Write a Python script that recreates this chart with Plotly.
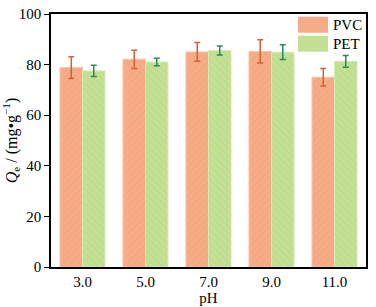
import plotly.graph_objects as go

categories = ["3.0", "5.0", "7.0", "9.0", "11.0"]
pvc = [78.8, 82.1, 85.0, 85.2, 75.0]
pvc_err = [4.3, 3.6, 3.7, 4.6, 3.5]
pet = [77.5, 81.0, 85.6, 84.9, 81.3]
pet_err = [2.2, 1.5, 1.8, 2.9, 2.3]
series_names = ["PVC", "PET"]
yticks = [0, 20, 40, 60, 80, 100]

FONT = "Liberation Serif"
PVC_COL, PVC_FG, PVC_ERR = "#F6AC86", "#E88A5E", "#D5603A"
PET_COL, PET_FG, PET_ERR = "#C3E094", "#9CC664", "#2A8A58"

fig = go.Figure()
fig.add_trace(go.Bar(
    x=categories, y=pvc, name=series_names[0],
    marker=dict(color=PVC_COL, line=dict(color="#F9C4A6", width=1),
                pattern=dict(shape="/", fgcolor=PVC_FG, fgopacity=0.4, size=5, solidity=0.15, fillmode="overlay")),
    error_y=dict(type="data", array=pvc_err, color=PVC_ERR, thickness=1.5, width=3),
    showlegend=False,
))
fig.add_trace(go.Bar(
    x=categories, y=pet, name=series_names[1],
    marker=dict(color=PET_COL, line=dict(color="#D6EAB2", width=1),
                pattern=dict(shape="\\", fgcolor=PET_FG, fgopacity=0.4, size=5, solidity=0.15, fillmode="overlay")),
    error_y=dict(type="data", array=pet_err, color=PET_ERR, thickness=1.5, width=3),
    showlegend=False,
))

# custom legend with large swatches, placed in paper coordinates
L, T, W, H = 51.0, 14.0, 315.0, 253.0
def px_x(x):
    return (x - L) / W
def px_y(y):
    return (T + H - y) / H

legend_items = [(series_names[0], PVC_COL, "/", PVC_FG), (series_names[1], PET_COL, "\\", PET_FG)]
for i, (name, col, shp, fg) in enumerate(legend_items):
    top = 16.7 + i * 19.0
    fig.add_shape(type="rect", xref="paper", yref="paper",
                  x0=px_x(298), x1=px_x(328), y0=px_y(top + 16), y1=px_y(top),
                  fillcolor=col, line=dict(width=0), layer="above")
    fig.add_annotation(xref="paper", yref="paper", x=px_x(331), y=px_y(top + 8.5),
                       text=name, showarrow=False, xanchor="left", yanchor="middle",
                       font=dict(family=FONT, size=15, color="black"))

fig.update_layout(
    width=376, height=307,
    margin=dict(l=51, r=10, t=14, b=40, autoexpand=False),
    paper_bgcolor="white", plot_bgcolor="white",
    barmode="group", bargap=0.285, bargroupgap=0,
    font=dict(family=FONT, size=14, color="black"),
)
fig.update_xaxes(
    range=[-0.5, 4.5], automargin=False,
    showline=True, linecolor="black", linewidth=1.5, mirror=True,
    ticks="", showgrid=False,
    title=dict(text="pH", font=dict(family=FONT, size=15), standoff=0),
    tickfont=dict(family=FONT, size=15),
)
fig.update_yaxes(
    range=[0, 100], tickvals=yticks, automargin=False,
    showline=True, linecolor="black", linewidth=1.5, mirror=True,
    ticks="outside", ticklen=5, tickwidth=1.2, tickcolor="black", showgrid=False, zeroline=False,
    title=dict(text="<i>Q</i><sub>e</sub> / (mg•g<sup>−1</sup>)", font=dict(family=FONT, size=16), standoff=4),
    tickfont=dict(family=FONT, size=15),
)

fig.write_html("out.html", config={"displayModeBar": False},
               post_script="document.body.style.margin='0';document.body.style.overflow='hidden';")
